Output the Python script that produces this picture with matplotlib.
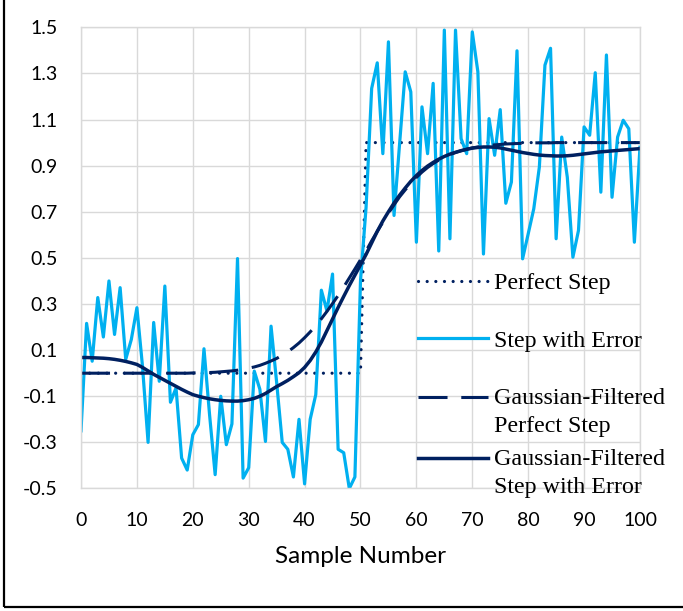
import numpy as np
import matplotlib
matplotlib.use("Agg")
import matplotlib.pyplot as plt
from matplotlib.legend_handler import HandlerLine2D
from matplotlib.patches import Rectangle

# sample positions
samples = list(range(0, 101))

# ideal step: 0 up to sample 50, 1 from sample 51
perfect_step = [0.0] * 51 + [1.0] * 50

# step with added error
step_with_error = [
    -0.25, 0.216, 0.052, 0.328, 0.157, 0.40, 0.168, 0.371, 0.06, 0.146,
    0.284, 0.03, -0.30, 0.22, -0.035, 0.378, -0.126, -0.064, -0.368, -0.42,
    -0.267, -0.223, 0.106, -0.18, -0.44, -0.10, -0.31, -0.22, 0.497, -0.455,
    -0.41, 0.009, -0.07, -0.296, 0.204, -0.04, -0.30, -0.33, -0.45, -0.20,
    -0.48, -0.20, -0.093, 0.36, 0.27, 0.43, -0.33, -0.345, -0.50, -0.45,
    0.40, 0.72, 1.235, 1.346, 0.952, 1.437, 0.684, 0.996, 1.307, 1.22,
    0.568, 1.155, 0.952, 1.257, 0.53, 1.488, 0.583, 1.488, 1.017, 0.952,
    1.48, 1.307, 0.517, 1.104, 0.945, 1.143, 0.737, 0.829, 1.398, 0.496,
    0.604, 0.713, 0.894, 1.336, 1.409, 0.583, 1.024, 0.85, 0.503, 0.619,
    1.068, 1.032, 1.303, 0.785, 1.38, 0.763, 1.024, 1.097, 1.06, 0.568,
    0.98,
]

# gaussian-filtered perfect step
gauss_perfect = [
    0.0, 0.0, 0.0, 0.0, 0.0, 0.0, 0.0, 0.0, 0.0, 0.0,
    0.0, 0.0, 0.0, 0.0, 0.0, 0.0, 0.0, 0.0, 0.0, 0.0,
    0.001, 0.002, 0.002, 0.003, 0.004, 0.006, 0.008, 0.010, 0.013, 0.017,
    0.022, 0.027, 0.034, 0.043, 0.053, 0.064, 0.078, 0.093, 0.111, 0.131,
    0.154, 0.179, 0.206, 0.236, 0.268, 0.302, 0.337, 0.374, 0.413, 0.452,
    0.492, 0.530, 0.574, 0.615, 0.655, 0.694, 0.730, 0.765, 0.795, 0.823,
    0.849, 0.872, 0.892, 0.909, 0.924, 0.937, 0.948, 0.957, 0.965, 0.971,
    0.977, 0.981, 0.985, 0.988, 0.990, 0.992, 0.994, 0.995, 0.996, 0.997,
    0.998, 0.999, 0.999, 0.999, 0.999, 1.0, 1.0, 1.0, 1.0, 1.0,
    1.0, 1.0, 1.0, 1.0, 1.0, 1.0, 1.0, 1.0, 1.0, 1.0,
    1.0,
]

# gaussian-filtered step with error
gauss_error = [
    0.068, 0.068, 0.067, 0.066, 0.065, 0.063, 0.060, 0.056, 0.051, 0.045,
    0.038, 0.025, 0.010, -0.005, -0.018, -0.031, -0.044, -0.057, -0.070, -0.082,
    -0.093, -0.100, -0.106, -0.111, -0.115, -0.118, -0.120, -0.121, -0.121, -0.119,
    -0.115, -0.109, -0.100, -0.088, -0.073, -0.058, -0.045, -0.031, -0.015, 0.002,
    0.025, 0.055, 0.092, 0.135, 0.185, 0.235, 0.285, 0.333, 0.380, 0.425,
    0.470, 0.515, 0.565, 0.615, 0.660, 0.700, 0.738, 0.772, 0.803, 0.832,
    0.857, 0.879, 0.898, 0.914, 0.928, 0.940, 0.950, 0.958, 0.965, 0.971,
    0.976, 0.979, 0.981, 0.981, 0.980, 0.977, 0.972, 0.967, 0.962, 0.957,
    0.953, 0.949, 0.946, 0.944, 0.943, 0.942, 0.942, 0.943, 0.945, 0.948,
    0.951, 0.954, 0.957, 0.960, 0.962, 0.964, 0.966, 0.968, 0.970, 0.972,
    0.974,
]

y_ticks = [-0.5, -0.3, -0.1, 0.1, 0.3, 0.5, 0.7, 0.9, 1.1, 1.3, 1.5]
x_ticks = list(range(0, 101, 10))

navy = "#002060"
light_blue = "#00B0F0"
grid_grey = "#d9d9d9"


class FirstLineHandler(HandlerLine2D):
    # put the legend line next to the first line of a two-line label
    def create_artists(self, legend, orig_handle, xdescent, ydescent,
                       width, height, fontsize, trans):
        artists = super().create_artists(legend, orig_handle, xdescent, ydescent,
                                         width, height, fontsize, trans)
        for a in artists:
            a.set_ydata(np.asarray(a.get_ydata()) + 0.62 * fontsize)
        return artists


fig = plt.figure(figsize=(6.83, 6.11), dpi=100)
ax = fig.add_axes([0.1186, 0.2005, 0.8184, 0.7548])

l1, = ax.plot(samples, perfect_step, color=navy, lw=2.3,
              linestyle=(0, (0.01, 2.7)), dash_capstyle="round", label="Perfect Step")
l2, = ax.plot(samples, step_with_error, color=light_blue, lw=2.3, label="Step with Error")
l3, = ax.plot(samples, gauss_perfect, color=navy, lw=2.2,
              linestyle=(0, (9.5, 4.5)), label="Gaussian-Filtered\nPerfect Step")
l4, = ax.plot(samples, gauss_error, color=navy, lw=2.5,
              label="Gaussian-Filtered\nStep with Error")

ax.set_xlim(0, 100)
ax.set_ylim(-0.5, 1.5)
ax.set_xticks(x_ticks)
ax.set_xticklabels([str(v) for v in x_ticks])
ax.set_yticks(y_ticks)
ax.set_yticklabels(["{:.1f}".format(v) for v in y_ticks])
ax.tick_params(length=0, pad=17, labelsize=14)
for lab in ax.get_xticklabels() + ax.get_yticklabels():
    lab.set_fontfamily("Lato")

ax.grid(True, color=grid_grey, lw=1.0)
ax.set_axisbelow(True)
for sp in ax.spines.values():
    sp.set_color(grid_grey)
    sp.set_linewidth(1.0)

ax.set_xlabel("Sample Number", fontsize=17.5, family="Lato", labelpad=12)

leg_font = {"family": "Liberation Serif", "size": 17.3}
leg1 = ax.legend(handles=[l1, l2, l3], loc="upper left", bbox_to_anchor=(0.603, 0.469),
                 frameon=False, prop=leg_font, handlelength=2.9, handletextpad=0.25,
                 labelspacing=1.5, borderpad=0, borderaxespad=0,
                 handler_map={l3: FirstLineHandler()})
ax.add_artist(leg1)
leg2 = ax.legend(handles=[l4], loc="upper left", bbox_to_anchor=(0.603, 0.086),
                 frameon=False, prop=leg_font, handlelength=2.9, handletextpad=0.25,
                 borderpad=0, borderaxespad=0,
                 handler_map={l4: FirstLineHandler()})
for leg in (leg1, leg2):
    for t in leg.get_texts():
        t.set_linespacing(1.45)

# outer frame (top and right edges fall outside the image, as in the original)
fig.add_artist(Rectangle((0.0059, 0.0065), 1.5, 1.5, fill=False, lw=1.6,
                         edgecolor="black", transform=fig.transFigure, clip_on=False))

fig.savefig("out.png", dpi=100)
